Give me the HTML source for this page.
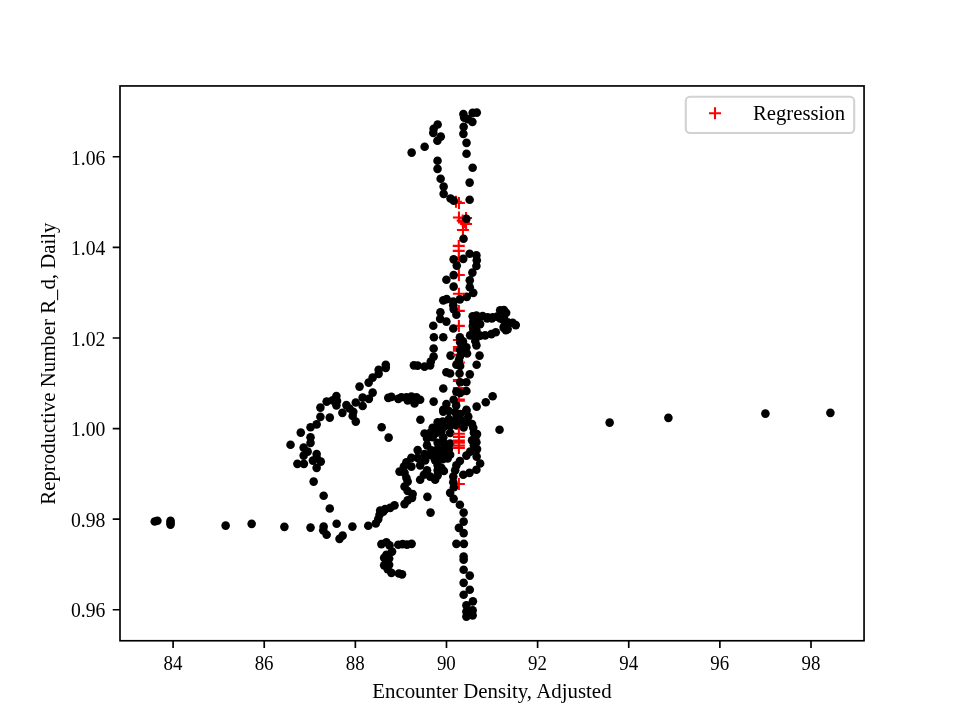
<!DOCTYPE html>
<html><head><meta charset="utf-8"><title>Regression</title>
<style>
html,body{margin:0;padding:0;background:#fff;}
svg{display:block;}
text{font-family:"Liberation Serif","Times New Roman",serif;font-size:20.83px;fill:#000;}
</style></head><body>
<svg width="960" height="720" viewBox="0 0 960 720">
<rect x="0" y="0" width="960" height="720" fill="#fff"/>

<g fill="#000">
<circle cx="411.65" cy="152.60" r="4.3"/>
<circle cx="424.65" cy="146.73" r="4.3"/>
<circle cx="437.65" cy="124.47" r="4.3"/>
<circle cx="433.65" cy="128.85" r="4.3"/>
<circle cx="433.27" cy="132.85" r="4.3"/>
<circle cx="440.77" cy="136.60" r="4.3"/>
<circle cx="437.40" cy="140.73" r="4.3"/>
<circle cx="437.53" cy="160.73" r="4.3"/>
<circle cx="437.53" cy="168.85" r="4.3"/>
<circle cx="440.65" cy="178.73" r="4.3"/>
<circle cx="443.65" cy="186.60" r="4.3"/>
<circle cx="463.40" cy="114.10" r="4.3"/>
<circle cx="464.15" cy="117.60" r="4.3"/>
<circle cx="472.65" cy="112.85" r="4.3"/>
<circle cx="476.77" cy="112.60" r="4.3"/>
<circle cx="472.40" cy="121.85" r="4.3"/>
<circle cx="463.65" cy="126.85" r="4.3"/>
<circle cx="463.40" cy="133.85" r="4.3"/>
<circle cx="466.53" cy="142.85" r="4.3"/>
<circle cx="466.53" cy="153.73" r="4.3"/>
<circle cx="472.65" cy="167.73" r="4.3"/>
<circle cx="469.65" cy="182.60" r="4.3"/>
<circle cx="467.90" cy="119.10" r="4.3"/>
<circle cx="443.65" cy="193.85" r="4.3"/>
<circle cx="469.65" cy="199.73" r="4.3"/>
<circle cx="469.65" cy="253.73" r="4.3"/>
<circle cx="476.40" cy="255.35" r="4.3"/>
<circle cx="476.77" cy="260.35" r="4.3"/>
<circle cx="476.40" cy="265.97" r="4.3"/>
<circle cx="472.40" cy="272.60" r="4.3"/>
<circle cx="446.40" cy="279.73" r="4.3"/>
<circle cx="469.77" cy="280.35" r="4.3"/>
<circle cx="453.65" cy="286.60" r="4.3"/>
<circle cx="469.77" cy="287.23" r="4.3"/>
<circle cx="473.27" cy="292.85" r="4.3"/>
<circle cx="466.77" cy="296.85" r="4.3"/>
<circle cx="443.27" cy="300.35" r="4.3"/>
<circle cx="446.65" cy="299.10" r="4.3"/>
<circle cx="453.27" cy="301.60" r="4.3"/>
<circle cx="440.40" cy="312.23" r="4.3"/>
<circle cx="440.15" cy="318.85" r="4.3"/>
<circle cx="446.40" cy="321.60" r="4.3"/>
<circle cx="433.27" cy="325.73" r="4.3"/>
<circle cx="433.90" cy="337.23" r="4.3"/>
<circle cx="443.27" cy="337.23" r="4.3"/>
<circle cx="472.65" cy="316.35" r="4.3"/>
<circle cx="476.40" cy="315.60" r="4.3"/>
<circle cx="482.65" cy="315.97" r="4.3"/>
<circle cx="487.65" cy="317.23" r="4.3"/>
<circle cx="492.65" cy="317.23" r="4.3"/>
<circle cx="497.03" cy="316.60" r="4.3"/>
<circle cx="500.15" cy="310.35" r="4.3"/>
<circle cx="503.90" cy="310.10" r="4.3"/>
<circle cx="506.15" cy="312.85" r="4.3"/>
<circle cx="503.90" cy="317.85" r="4.3"/>
<circle cx="500.15" cy="318.47" r="4.3"/>
<circle cx="507.65" cy="322.23" r="4.3"/>
<circle cx="512.65" cy="322.85" r="4.3"/>
<circle cx="515.77" cy="325.10" r="4.3"/>
<circle cx="503.90" cy="326.60" r="4.3"/>
<circle cx="507.65" cy="329.10" r="4.3"/>
<circle cx="473.27" cy="321.60" r="4.3"/>
<circle cx="475.15" cy="324.73" r="4.3"/>
<circle cx="480.15" cy="324.10" r="4.3"/>
<circle cx="473.27" cy="329.10" r="4.3"/>
<circle cx="476.40" cy="330.35" r="4.3"/>
<circle cx="470.15" cy="335.35" r="4.3"/>
<circle cx="476.40" cy="336.60" r="4.3"/>
<circle cx="485.15" cy="335.35" r="4.3"/>
<circle cx="491.40" cy="334.10" r="4.3"/>
<circle cx="495.77" cy="332.23" r="4.3"/>
<circle cx="476.40" cy="345.35" r="4.3"/>
<circle cx="479.53" cy="355.60" r="4.3"/>
<circle cx="476.65" cy="364.73" r="4.3"/>
<circle cx="469.77" cy="374.35" r="4.3"/>
<circle cx="433.65" cy="348.47" r="4.3"/>
<circle cx="433.65" cy="356.60" r="4.3"/>
<circle cx="430.77" cy="361.60" r="4.3"/>
<circle cx="430.15" cy="365.35" r="4.3"/>
<circle cx="424.53" cy="366.60" r="4.3"/>
<circle cx="413.90" cy="365.35" r="4.3"/>
<circle cx="417.65" cy="365.60" r="4.3"/>
<circle cx="450.53" cy="355.60" r="4.3"/>
<circle cx="446.40" cy="372.23" r="4.3"/>
<circle cx="450.15" cy="373.47" r="4.3"/>
<circle cx="443.27" cy="388.47" r="4.3"/>
<circle cx="492.65" cy="396.23" r="4.3"/>
<circle cx="485.77" cy="402.23" r="4.3"/>
<circle cx="476.65" cy="406.60" r="4.3"/>
<circle cx="466.40" cy="409.73" r="4.3"/>
<circle cx="433.65" cy="401.60" r="4.3"/>
<circle cx="446.40" cy="404.10" r="4.3"/>
<circle cx="401.40" cy="397.23" r="4.3"/>
<circle cx="406.40" cy="397.23" r="4.3"/>
<circle cx="411.40" cy="396.60" r="4.3"/>
<circle cx="416.40" cy="397.23" r="4.3"/>
<circle cx="420.15" cy="399.73" r="4.3"/>
<circle cx="414.53" cy="403.47" r="4.3"/>
<circle cx="407.65" cy="400.35" r="4.3"/>
<circle cx="443.27" cy="409.73" r="4.3"/>
<circle cx="499.53" cy="429.73" r="4.3"/>
<circle cx="420.40" cy="419.73" r="4.3"/>
<circle cx="443.27" cy="411.60" r="4.3"/>
<circle cx="448.90" cy="410.97" r="4.3"/>
<circle cx="455.15" cy="412.23" r="4.3"/>
<circle cx="460.15" cy="414.10" r="4.3"/>
<circle cx="466.40" cy="410.97" r="4.3"/>
<circle cx="468.27" cy="416.60" r="4.3"/>
<circle cx="437.65" cy="422.23" r="4.3"/>
<circle cx="442.65" cy="421.60" r="4.3"/>
<circle cx="448.90" cy="419.10" r="4.3"/>
<circle cx="455.15" cy="419.73" r="4.3"/>
<circle cx="461.40" cy="420.35" r="4.3"/>
<circle cx="467.65" cy="421.60" r="4.3"/>
<circle cx="472.03" cy="424.10" r="4.3"/>
<circle cx="432.65" cy="427.85" r="4.3"/>
<circle cx="437.65" cy="427.85" r="4.3"/>
<circle cx="443.90" cy="426.60" r="4.3"/>
<circle cx="450.15" cy="425.97" r="4.3"/>
<circle cx="456.40" cy="425.35" r="4.3"/>
<circle cx="473.27" cy="427.85" r="4.3"/>
<circle cx="424.53" cy="433.47" r="4.3"/>
<circle cx="430.15" cy="432.85" r="4.3"/>
<circle cx="436.40" cy="432.85" r="4.3"/>
<circle cx="441.40" cy="431.60" r="4.3"/>
<circle cx="450.15" cy="432.85" r="4.3"/>
<circle cx="473.90" cy="432.85" r="4.3"/>
<circle cx="477.03" cy="434.10" r="4.3"/>
<circle cx="427.03" cy="438.47" r="4.3"/>
<circle cx="432.65" cy="437.23" r="4.3"/>
<circle cx="443.27" cy="437.23" r="4.3"/>
<circle cx="475.15" cy="438.47" r="4.3"/>
<circle cx="427.03" cy="445.35" r="4.3"/>
<circle cx="437.65" cy="442.85" r="4.3"/>
<circle cx="443.90" cy="442.85" r="4.3"/>
<circle cx="450.15" cy="443.47" r="4.3"/>
<circle cx="472.03" cy="440.35" r="4.3"/>
<circle cx="476.40" cy="442.23" r="4.3"/>
<circle cx="431.40" cy="450.35" r="4.3"/>
<circle cx="437.65" cy="449.10" r="4.3"/>
<circle cx="443.90" cy="449.10" r="4.3"/>
<circle cx="448.90" cy="449.10" r="4.3"/>
<circle cx="473.90" cy="445.35" r="4.3"/>
<circle cx="477.03" cy="449.10" r="4.3"/>
<circle cx="417.65" cy="450.10" r="4.3"/>
<circle cx="424.53" cy="454.10" r="4.3"/>
<circle cx="431.40" cy="455.35" r="4.3"/>
<circle cx="437.65" cy="455.35" r="4.3"/>
<circle cx="443.90" cy="455.35" r="4.3"/>
<circle cx="450.15" cy="454.73" r="4.3"/>
<circle cx="470.15" cy="451.60" r="4.3"/>
<circle cx="466.40" cy="455.60" r="4.3"/>
<circle cx="476.65" cy="456.60" r="4.3"/>
<circle cx="411.40" cy="457.85" r="4.3"/>
<circle cx="417.65" cy="457.85" r="4.3"/>
<circle cx="425.15" cy="460.35" r="4.3"/>
<circle cx="435.15" cy="460.35" r="4.3"/>
<circle cx="442.65" cy="459.10" r="4.3"/>
<circle cx="447.65" cy="458.47" r="4.3"/>
<circle cx="459.90" cy="460.97" r="4.3"/>
<circle cx="406.40" cy="462.23" r="4.3"/>
<circle cx="420.15" cy="465.35" r="4.3"/>
<circle cx="411.40" cy="466.60" r="4.3"/>
<circle cx="437.65" cy="465.35" r="4.3"/>
<circle cx="441.40" cy="467.85" r="4.3"/>
<circle cx="456.40" cy="465.35" r="4.3"/>
<circle cx="480.15" cy="463.47" r="4.3"/>
<circle cx="403.90" cy="466.60" r="4.3"/>
<circle cx="427.03" cy="470.35" r="4.3"/>
<circle cx="437.65" cy="470.35" r="4.3"/>
<circle cx="443.90" cy="470.97" r="4.3"/>
<circle cx="455.15" cy="470.35" r="4.3"/>
<circle cx="476.40" cy="469.73" r="4.3"/>
<circle cx="404.53" cy="472.85" r="4.3"/>
<circle cx="423.90" cy="474.73" r="4.3"/>
<circle cx="430.15" cy="476.60" r="4.3"/>
<circle cx="437.65" cy="475.35" r="4.3"/>
<circle cx="453.27" cy="476.60" r="4.3"/>
<circle cx="469.53" cy="472.85" r="4.3"/>
<circle cx="463.27" cy="474.73" r="4.3"/>
<circle cx="406.40" cy="477.85" r="4.3"/>
<circle cx="420.15" cy="479.73" r="4.3"/>
<circle cx="435.15" cy="479.73" r="4.3"/>
<circle cx="450.15" cy="492.85" r="4.3"/>
<circle cx="453.65" cy="498.85" r="4.3"/>
<circle cx="459.90" cy="504.73" r="4.3"/>
<circle cx="463.65" cy="512.60" r="4.3"/>
<circle cx="463.65" cy="521.60" r="4.3"/>
<circle cx="458.90" cy="527.85" r="4.3"/>
<circle cx="463.65" cy="533.10" r="4.3"/>
<circle cx="456.40" cy="543.85" r="4.3"/>
<circle cx="463.90" cy="543.85" r="4.3"/>
<circle cx="427.40" cy="496.85" r="4.3"/>
<circle cx="430.53" cy="512.60" r="4.3"/>
<circle cx="407.65" cy="481.60" r="4.3"/>
<circle cx="404.53" cy="486.60" r="4.3"/>
<circle cx="407.65" cy="490.97" r="4.3"/>
<circle cx="412.65" cy="494.10" r="4.3"/>
<circle cx="412.03" cy="497.85" r="4.3"/>
<circle cx="407.65" cy="500.35" r="4.3"/>
<circle cx="404.53" cy="504.10" r="4.3"/>
<circle cx="402.65" cy="544.10" r="4.3"/>
<circle cx="411.65" cy="543.85" r="4.3"/>
<circle cx="407.03" cy="544.60" r="4.3"/>
<circle cx="463.65" cy="556.60" r="4.3"/>
<circle cx="463.65" cy="559.73" r="4.3"/>
<circle cx="463.65" cy="569.73" r="4.3"/>
<circle cx="469.77" cy="575.60" r="4.3"/>
<circle cx="463.65" cy="582.85" r="4.3"/>
<circle cx="469.77" cy="589.73" r="4.3"/>
<circle cx="463.65" cy="594.73" r="4.3"/>
<circle cx="472.90" cy="601.35" r="4.3"/>
<circle cx="466.40" cy="605.35" r="4.3"/>
<circle cx="472.65" cy="610.35" r="4.3"/>
<circle cx="466.40" cy="611.60" r="4.3"/>
<circle cx="472.65" cy="615.35" r="4.3"/>
<circle cx="466.40" cy="616.60" r="4.3"/>
<circle cx="385.77" cy="364.73" r="4.3"/>
<circle cx="385.77" cy="367.85" r="4.3"/>
<circle cx="378.65" cy="369.73" r="4.3"/>
<circle cx="378.65" cy="373.85" r="4.3"/>
<circle cx="372.65" cy="377.60" r="4.3"/>
<circle cx="368.65" cy="382.60" r="4.3"/>
<circle cx="359.53" cy="386.60" r="4.3"/>
<circle cx="372.65" cy="392.60" r="4.3"/>
<circle cx="362.65" cy="397.60" r="4.3"/>
<circle cx="368.90" cy="398.85" r="4.3"/>
<circle cx="355.77" cy="402.47" r="4.3"/>
<circle cx="362.65" cy="405.97" r="4.3"/>
<circle cx="388.27" cy="397.85" r="4.3"/>
<circle cx="391.40" cy="396.85" r="4.3"/>
<circle cx="398.27" cy="398.85" r="4.3"/>
<circle cx="336.40" cy="395.97" r="4.3"/>
<circle cx="337.03" cy="400.97" r="4.3"/>
<circle cx="336.40" cy="405.35" r="4.3"/>
<circle cx="332.65" cy="400.35" r="4.3"/>
<circle cx="326.65" cy="401.60" r="4.3"/>
<circle cx="320.40" cy="407.60" r="4.3"/>
<circle cx="346.40" cy="405.10" r="4.3"/>
<circle cx="349.53" cy="408.47" r="4.3"/>
<circle cx="353.27" cy="411.85" r="4.3"/>
<circle cx="352.65" cy="415.97" r="4.3"/>
<circle cx="355.77" cy="421.60" r="4.3"/>
<circle cx="342.40" cy="412.85" r="4.3"/>
<circle cx="320.40" cy="416.85" r="4.3"/>
<circle cx="329.77" cy="417.60" r="4.3"/>
<circle cx="316.65" cy="424.35" r="4.3"/>
<circle cx="310.53" cy="427.23" r="4.3"/>
<circle cx="300.77" cy="432.60" r="4.3"/>
<circle cx="381.65" cy="427.23" r="4.3"/>
<circle cx="310.53" cy="437.23" r="4.3"/>
<circle cx="310.53" cy="442.85" r="4.3"/>
<circle cx="290.53" cy="444.73" r="4.3"/>
<circle cx="303.65" cy="447.60" r="4.3"/>
<circle cx="307.65" cy="451.60" r="4.3"/>
<circle cx="303.65" cy="455.60" r="4.3"/>
<circle cx="316.65" cy="454.10" r="4.3"/>
<circle cx="316.65" cy="457.85" r="4.3"/>
<circle cx="312.90" cy="460.60" r="4.3"/>
<circle cx="320.77" cy="461.60" r="4.3"/>
<circle cx="297.40" cy="463.85" r="4.3"/>
<circle cx="303.90" cy="463.85" r="4.3"/>
<circle cx="316.65" cy="467.85" r="4.3"/>
<circle cx="313.65" cy="481.60" r="4.3"/>
<circle cx="323.65" cy="495.73" r="4.3"/>
<circle cx="388.65" cy="437.60" r="4.3"/>
<circle cx="399.53" cy="471.60" r="4.3"/>
<circle cx="329.77" cy="508.47" r="4.3"/>
<circle cx="394.53" cy="505.35" r="4.3"/>
<circle cx="390.15" cy="507.85" r="4.3"/>
<circle cx="385.15" cy="509.10" r="4.3"/>
<circle cx="380.15" cy="510.60" r="4.3"/>
<circle cx="310.53" cy="527.60" r="4.3"/>
<circle cx="323.65" cy="526.60" r="4.3"/>
<circle cx="323.27" cy="530.35" r="4.3"/>
<circle cx="326.65" cy="534.73" r="4.3"/>
<circle cx="336.65" cy="523.73" r="4.3"/>
<circle cx="342.65" cy="535.60" r="4.3"/>
<circle cx="339.53" cy="538.85" r="4.3"/>
<circle cx="352.40" cy="526.60" r="4.3"/>
<circle cx="368.27" cy="525.73" r="4.3"/>
<circle cx="375.77" cy="523.47" r="4.3"/>
<circle cx="378.27" cy="519.10" r="4.3"/>
<circle cx="379.53" cy="514.73" r="4.3"/>
<circle cx="383.27" cy="511.60" r="4.3"/>
<circle cx="381.40" cy="544.10" r="4.3"/>
<circle cx="386.40" cy="542.23" r="4.3"/>
<circle cx="389.53" cy="545.35" r="4.3"/>
<circle cx="398.27" cy="544.73" r="4.3"/>
<circle cx="392.03" cy="551.60" r="4.3"/>
<circle cx="386.40" cy="554.73" r="4.3"/>
<circle cx="386.40" cy="559.10" r="4.3"/>
<circle cx="386.40" cy="564.10" r="4.3"/>
<circle cx="387.65" cy="569.10" r="4.3"/>
<circle cx="391.40" cy="572.85" r="4.3"/>
<circle cx="398.90" cy="573.47" r="4.3"/>
<circle cx="402.03" cy="574.35" r="4.3"/>
<circle cx="154.71" cy="521.47" r="4.3"/>
<circle cx="157.40" cy="520.73" r="4.3"/>
<circle cx="170.53" cy="520.73" r="4.3"/>
<circle cx="170.53" cy="522.66" r="4.3"/>
<circle cx="170.53" cy="524.60" r="4.3"/>
<circle cx="225.65" cy="525.60" r="4.3"/>
<circle cx="251.65" cy="523.85" r="4.3"/>
<circle cx="284.40" cy="526.85" r="4.3"/>
<circle cx="609.65" cy="422.60" r="4.3"/>
<circle cx="668.40" cy="417.85" r="4.3"/>
<circle cx="765.40" cy="413.60" r="4.3"/>
<circle cx="830.40" cy="412.85" r="4.3"/>
<circle cx="487.15" cy="318.35" r="4.3"/>
<circle cx="491.84" cy="318.35" r="4.3"/>
<circle cx="478.40" cy="321.29" r="4.3"/>
<circle cx="502.77" cy="319.10" r="4.3"/>
<circle cx="503.71" cy="327.85" r="4.3"/>
<circle cx="505.90" cy="330.23" r="4.3"/>
<circle cx="480.27" cy="335.66" r="4.3"/>
<circle cx="475.27" cy="340.97" r="4.3"/>
<circle cx="472.77" cy="325.97" r="4.3"/>
<circle cx="389.15" cy="558.47" r="4.3"/>
<circle cx="389.15" cy="564.73" r="4.3"/>
<circle cx="384.15" cy="565.35" r="4.3"/>
<circle cx="384.15" cy="557.85" r="4.3"/>
</g>
<path d="M452.75 245.88h12M458.75 239.88v12M452.75 250.88h12M458.75 244.88v12M452.88 257.88h12M458.88 251.88v12M449.94 201.75h12M455.94 195.75v12M452.94 203.00h12M458.94 197.00v12M452.94 217.50h12M458.94 211.50v12M460.06 217.94h12M466.06 211.94v12M456.69 220.62h12M462.69 214.62v12M458.06 222.31h12M464.06 216.31v12M460.06 224.06h12M466.06 218.06v12M456.94 230.00h12M462.94 224.00v12M452.88 275.00h12M458.88 269.00v12M452.88 293.75h12M458.88 287.75v12M452.88 310.88h12M458.88 304.88v12M452.88 325.88h12M458.88 319.88v12M452.88 340.00h12M458.88 334.00v12M452.88 347.00h12M458.88 341.00v12M452.88 348.88h12M458.88 342.88v12M452.88 350.62h12M458.88 344.62v12M452.88 354.75h12M458.88 348.75v12M452.88 362.50h12M458.88 356.50v12M452.88 380.12h12M458.88 374.12v12M452.88 381.00h12M458.88 375.00v12M452.88 388.12h12M458.88 382.12v12M452.88 394.25h12M458.88 388.25v12M452.88 399.62h12M458.88 393.62v12M452.88 400.62h12M458.88 394.62v12M452.88 433.75h12M458.88 427.75v12M452.88 436.88h12M458.88 430.88v12M452.88 440.62h12M458.88 434.62v12M452.88 442.62h12M458.88 436.62v12M452.88 445.62h12M458.88 439.62v12M452.88 448.00h12M458.88 442.00v12M452.88 484.00h12M458.88 478.00v12" stroke="#f00" stroke-width="2.08" fill="none"/>
<g fill="#000">
<circle cx="466.40" cy="218.73" r="4.3"/>
<circle cx="463.53" cy="238.73" r="4.3"/>
<circle cx="450.53" cy="198.47" r="4.3"/>
<circle cx="453.65" cy="200.60" r="4.3"/>
<circle cx="463.27" cy="258.85" r="4.3"/>
<circle cx="453.65" cy="259.35" r="4.3"/>
<circle cx="456.77" cy="265.60" r="4.3"/>
<circle cx="453.65" cy="275.10" r="4.3"/>
<circle cx="459.90" cy="299.35" r="4.3"/>
<circle cx="453.27" cy="305.35" r="4.3"/>
<circle cx="453.65" cy="309.10" r="4.3"/>
<circle cx="456.40" cy="314.73" r="4.3"/>
<circle cx="453.27" cy="328.47" r="4.3"/>
<circle cx="459.90" cy="337.23" r="4.3"/>
<circle cx="460.15" cy="342.23" r="4.3"/>
<circle cx="462.65" cy="345.35" r="4.3"/>
<circle cx="466.40" cy="347.23" r="4.3"/>
<circle cx="460.15" cy="349.73" r="4.3"/>
<circle cx="467.03" cy="353.47" r="4.3"/>
<circle cx="459.90" cy="356.60" r="4.3"/>
<circle cx="458.90" cy="360.35" r="4.3"/>
<circle cx="456.40" cy="364.73" r="4.3"/>
<circle cx="460.15" cy="365.97" r="4.3"/>
<circle cx="459.53" cy="373.47" r="4.3"/>
<circle cx="460.15" cy="382.23" r="4.3"/>
<circle cx="466.40" cy="382.23" r="4.3"/>
<circle cx="456.40" cy="391.60" r="4.3"/>
<circle cx="460.15" cy="392.85" r="4.3"/>
<circle cx="466.40" cy="390.97" r="4.3"/>
<circle cx="453.65" cy="399.73" r="4.3"/>
<circle cx="456.15" cy="405.60" r="4.3"/>
<circle cx="463.65" cy="427.35" r="4.3"/>
<circle cx="453.27" cy="482.23" r="4.3"/>
<circle cx="453.90" cy="487.23" r="4.3"/>
<circle cx="462.96" cy="341.41" r="4.3"/>
</g>
<path d="M173.10 640.75v7.3M264.23 640.75v7.3M355.36 640.75v7.3M446.48 640.75v7.3M537.61 640.75v7.3M628.74 640.75v7.3M719.87 640.75v7.3M811.00 640.75v7.3M120.00 609.73h-7.3M120.00 519.14h-7.3M120.00 428.55h-7.3M120.00 337.96h-7.3M120.00 247.37h-7.3M120.00 156.78h-7.3" stroke="#000" stroke-width="1.67" fill="none"/>
<rect x="120.00" y="85.95" width="744.05" height="554.80" fill="none" stroke="#000" stroke-width="1.67"/>
<text x="163.55" y="669.7" textLength="18.9" lengthAdjust="spacingAndGlyphs">84</text>
<text x="254.68" y="669.7" textLength="18.9" lengthAdjust="spacingAndGlyphs">86</text>
<text x="345.81" y="669.7" textLength="18.9" lengthAdjust="spacingAndGlyphs">88</text>
<text x="436.93" y="669.7" textLength="18.9" lengthAdjust="spacingAndGlyphs">90</text>
<text x="528.06" y="669.7" textLength="18.9" lengthAdjust="spacingAndGlyphs">92</text>
<text x="619.19" y="669.7" textLength="18.9" lengthAdjust="spacingAndGlyphs">94</text>
<text x="710.32" y="669.7" textLength="18.9" lengthAdjust="spacingAndGlyphs">96</text>
<text x="801.45" y="669.7" textLength="18.9" lengthAdjust="spacingAndGlyphs">98</text>
<text x="70.90" y="616.90" textLength="34.4" lengthAdjust="spacingAndGlyphs">0.96</text>
<text x="70.90" y="526.80" textLength="34.4" lengthAdjust="spacingAndGlyphs">0.98</text>
<text x="70.90" y="435.80" textLength="34.4" lengthAdjust="spacingAndGlyphs">1.00</text>
<text x="70.90" y="345.80" textLength="34.4" lengthAdjust="spacingAndGlyphs">1.02</text>
<text x="70.90" y="254.70" textLength="34.4" lengthAdjust="spacingAndGlyphs">1.04</text>
<text x="70.90" y="165.00" textLength="34.4" lengthAdjust="spacingAndGlyphs">1.06</text>
<text x="372.2" y="698.4" textLength="239.4" lengthAdjust="spacingAndGlyphs">Encounter Density, Adjusted</text>
<text transform="translate(55,363.6) rotate(-90)" text-anchor="middle">Reproductive Number R_d, Daily</text>
<rect x="685.8" y="96.8" width="168.4" height="36.2" rx="4.2" ry="4.2" fill="#fff" fill-opacity="0.8" stroke="#d2d2d2" stroke-width="2.08"/>
<path d="M709 113.3h12M715 107.3v12" stroke="#f00" stroke-width="2.08" fill="none"/>
<text x="753" y="119.6" textLength="92.0" lengthAdjust="spacingAndGlyphs">Regression</text>
</svg></body></html>
